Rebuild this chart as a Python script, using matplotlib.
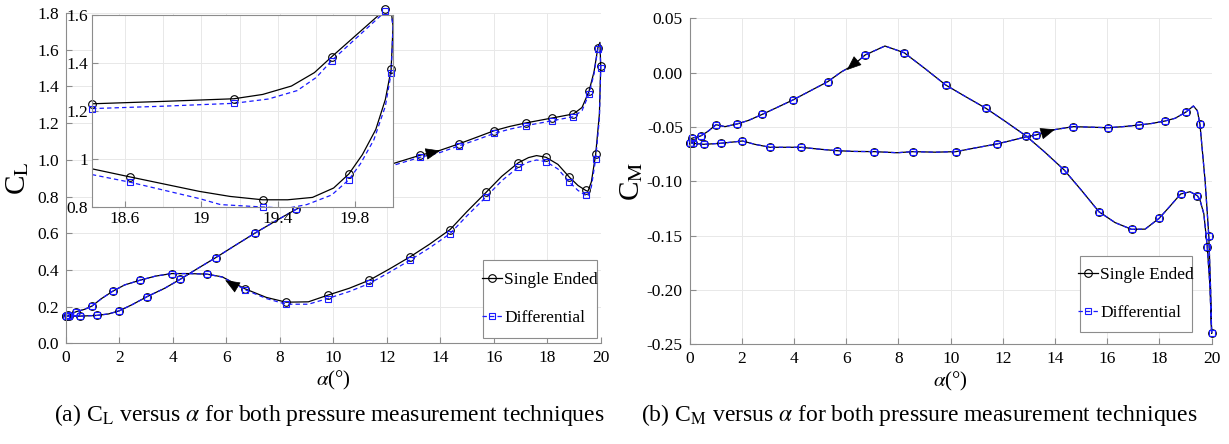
import numpy as np
import matplotlib.pyplot as plt
from matplotlib.patches import Rectangle
from matplotlib.ticker import FuncFormatter, MultipleLocator

plt.rcParams['font.family'] = 'Liberation Serif'
plt.rcParams['mathtext.fontset'] = 'stix'
plt.rcParams['font.size'] = 12

# --- lift coefficient over one pitch cycle (upstroke, then downstroke) ---
alpha_cl = [0.00, 0.13, 0.53, 1.16, 1.60, 2.00, 2.50, 3.05, 3.70, 4.27, 4.90, 5.61, 6.35, 7.08, 7.85,
            8.61, 10.10, 11.65, 12.25, 13.25, 14.00, 14.70, 15.40, 16.02, 16.60, 17.20, 18.19, 18.98,
            19.30, 19.56, 19.75, 19.89, 19.97, 20.00, 19.95, 19.81, 19.65, 19.52, 19.44, 19.15, 18.83,
            18.40, 17.95, 17.60, 17.30, 16.92, 16.30, 15.71, 15.00, 14.37, 13.60, 12.87, 12.10, 11.35,
            10.60, 9.79, 9.07, 8.24, 7.50, 6.70, 6.27, 5.85, 5.27, 4.60, 3.96, 3.35, 2.78, 2.20, 1.76,
            1.35, 0.98, 0.70, 0.385, 0.10, 0.00]
cl_single = [0.150, 0.147, 0.148, 0.152, 0.160, 0.177, 0.212, 0.255, 0.300, 0.348, 0.405, 0.467, 0.535,
             0.601, 0.667, 0.730, 0.848, 0.952, 0.980, 1.025, 1.052, 1.087, 1.125, 1.159, 1.182, 1.201,
             1.228, 1.250, 1.285, 1.373, 1.480, 1.609, 1.640, 1.509, 1.250, 1.029, 0.880, 0.828, 0.833,
             0.860, 0.905, 0.975, 1.014, 1.023, 1.012, 0.984, 0.910, 0.822, 0.718, 0.620, 0.540, 0.471,
             0.405, 0.344, 0.300, 0.262, 0.226, 0.224, 0.250, 0.297, 0.330, 0.362, 0.377, 0.380, 0.380,
             0.366, 0.344, 0.318, 0.284, 0.245, 0.203, 0.185, 0.172, 0.152, 0.150]
cl_diff = [0.150, 0.147, 0.148, 0.152, 0.160, 0.177, 0.212, 0.255, 0.300, 0.348, 0.405, 0.467, 0.535,
           0.601, 0.667, 0.730, 0.845, 0.945, 0.970, 1.014, 1.040, 1.076, 1.111, 1.144, 1.167, 1.186,
           1.213, 1.235, 1.268, 1.358, 1.468, 1.604, 1.630, 1.498, 1.225, 1.004, 0.853, 0.801, 0.806,
           0.833, 0.878, 0.950, 0.990, 0.999, 0.988, 0.960, 0.886, 0.797, 0.695, 0.598, 0.520, 0.453,
           0.387, 0.326, 0.282, 0.244, 0.213, 0.213, 0.244, 0.292, 0.328, 0.361, 0.377, 0.380, 0.380,
           0.366, 0.344, 0.318, 0.284, 0.245, 0.203, 0.185, 0.172, 0.152, 0.150]
cl_samples = [0, 1, 2, 3, 5, 7, 9, 11, 13, 15, 16, 17, 19, 21, 23, 25, 26, 27, 29, 31, 33, 35, 38, 40,
              42, 45, 47, 49, 51, 53, 55, 57, 59, 62, 64, 66, 68, 70, 72, 73, 74]

# close-up of the stall region
alpha_zoom_se = [18.43, 18.80, 19.17, 19.32, 19.47, 19.59, 19.68, 19.96, 19.99, 20.00, 19.99, 19.96,
                 19.91, 19.84, 19.77, 19.69, 19.58, 19.45, 19.32, 19.15, 18.99, 18.63, 18.43]
cl_zoom_se = [1.230, 1.240, 1.251, 1.269, 1.304, 1.360, 1.426, 1.624, 1.620, 1.554, 1.373, 1.248,
              1.123, 1.018, 0.938, 0.879, 0.840, 0.830, 0.830, 0.844, 0.865, 0.925, 0.959]
alpha_zoom_diff = [18.43, 18.80, 19.17, 19.35, 19.50, 19.60, 19.68, 19.96, 19.99, 20.00, 19.99, 19.96,
                   19.90, 19.83, 19.77, 19.68, 19.55, 19.45, 19.32, 19.10, 18.99, 18.63, 18.43]
cl_zoom_diff = [1.210, 1.220, 1.232, 1.250, 1.285, 1.340, 1.410, 1.615, 1.610, 1.550, 1.357, 1.220,
                1.080, 0.980, 0.914, 0.850, 0.810, 0.795, 0.800, 0.810, 0.835, 0.903, 0.935]
zoom_samples = [0, 2, 6, 7, 10, 14, 18, 21]

# --- pitching moment coefficient ---
alpha_cm = [0.00, 0.14, 0.55, 1.19, 1.60, 2.02, 2.50, 3.08, 4.26, 5.00, 5.63, 6.30, 7.07, 7.95, 8.57,
            9.40, 10.20, 11.00, 11.76, 12.40, 12.91, 13.27, 13.74, 14.70, 15.40, 16.04, 16.60, 17.22,
            17.70, 18.21, 18.60, 19.00, 19.30, 19.45, 19.55, 19.75, 19.89, 19.96, 20.00, 19.93, 19.83,
            19.70, 19.55, 19.45, 19.17, 18.81, 18.40, 17.99, 17.45, 16.93, 16.30, 15.68, 15.00, 14.35,
            13.60, 12.89, 12.10, 11.35, 10.60, 9.81, 9.00, 8.22, 7.48, 6.72, 6.27, 5.80, 5.29, 4.60,
            3.95, 3.35, 2.78, 2.25, 1.80, 1.35, 1.01, 0.70, 0.42, 0.08, 0.00]
cm_single = [-0.0645, -0.0650, -0.0660, -0.0650, -0.0640, -0.0629, -0.0660, -0.0687, -0.0687, -0.0705,
             -0.0718, -0.0725, -0.0727, -0.0737, -0.0727, -0.0732, -0.0727, -0.0690, -0.0657, -0.0620,
             -0.0589, -0.0574, -0.0534, -0.0497, -0.0502, -0.0507, -0.0497, -0.0482, -0.0468, -0.0445,
             -0.0420, -0.0365, -0.0307, -0.0350, -0.0473, -0.1000, -0.1500, -0.2000, -0.2400, -0.1950,
             -0.1600, -0.1300, -0.1170, -0.1132, -0.1096, -0.1117, -0.1230, -0.1340, -0.1440, -0.1442,
             -0.1380, -0.1280, -0.1080, -0.0896, -0.0730, -0.0583, -0.0450, -0.0328, -0.0225, -0.0114,
             0.0040, 0.0183, 0.0245, 0.0162, 0.0070, 0.0005, -0.0083, -0.0170, -0.0252, -0.0320,
             -0.0384, -0.0440, -0.0473, -0.0497, -0.0479, -0.0540, -0.0583, -0.0604, -0.0645]
# both techniques give the same moment to within the line width
cm_diff = list(cm_single)
cm_samples = [0, 1, 2, 3, 5, 7, 8, 10, 12, 14, 16, 18, 21, 23, 25, 27, 29, 31, 34, 36, 38, 40, 43, 45,
              47, 49, 51, 53, 55, 57, 59, 61, 63, 66, 68, 70, 72, 74, 76, 77, 78]

GRID = '#e8e8e8'
SPINE = '#8c8c8c'
BLUE = '#1a1aff'


def style_axes(ax, box=False):
    ax.grid(True, color=GRID, lw=0.7)
    ax.set_axisbelow(True)
    for side in ['left', 'bottom', 'top', 'right']:
        ax.spines[side].set_color(SPINE)
        ax.spines[side].set_linewidth(0.8)
        ax.spines[side].set_visible(box or side in ['left', 'bottom'])
    ax.tick_params(direction='in', length=4, color=SPINE, labelsize=12.5, pad=5,
                   top=False, right=False)


def draw_pair(ax, x, y1, y2, marks):
    ax.plot(x, y1, '-', color='k', lw=0.9, marker='o', ms=5.5, mfc='none', mew=0.8,
            markevery=marks, clip_on=False, label='Single Ended')
    ax.plot(x, y2, '--', color=BLUE, lw=0.9, dashes=(3.5, 2.5), marker='s', ms=3.8, mfc='none',
            mew=0.8, markevery=marks, clip_on=False, label='Differential')


def arrow(ax, tip, tail):
    ax.annotate('', xy=tip, xytext=tail,
                arrowprops=dict(arrowstyle='-|>,head_length=0.95,head_width=0.38', color='k',
                                lw=0.5, shrinkA=0, shrinkB=0, mutation_scale=10))


def legend(ax, box):
    # box = (x0, y0, w, h) in axes fraction; frame drawn separately so the
    # vertical padding can be larger than the horizontal one
    ax.add_patch(Rectangle(box[:2], box[2], box[3], transform=ax.transAxes, fc='white',
                           ec=SPINE, lw=0.8, zorder=4, clip_on=False))
    leg = ax.legend(loc='center', bbox_to_anchor=box, frameon=False, fontsize=12.5,
                    handlelength=1.15, handletextpad=0.1, labelspacing=1.25, borderpad=0,
                    borderaxespad=0)
    leg.set_zorder(5)


fig = plt.figure(figsize=(12.29, 4.44), dpi=100)

# (a) lift
ax1 = fig.add_axes([0.0535, 0.2268, 0.4353, 0.7439])
draw_pair(ax1, alpha_cl, cl_single, cl_diff, cl_samples)
arrow(ax1, (14.0, 1.05), (13.6, 1.036))
arrow(ax1, (5.96, 0.344), (6.4, 0.306))
ax1.set_xlim(0, 20)
ax1.set_ylim(0, 1.8)
ax1.set_xticks(np.arange(0, 21, 2))
ax1.set_yticks(np.arange(0, 1.81, 0.2))
ax1.yaxis.set_major_formatter(FuncFormatter(lambda v, p: f'{v:.1f}'))
style_axes(ax1)
ax1.set_xlabel(r'$\alpha$(°)', fontsize=15, labelpad=2)
ax1.set_ylabel(r'C$_\mathrm{L}$', fontsize=21, labelpad=4)
legend(ax1, (0.780, 0.015, 0.213, 0.237))

# stall close-up
axz = fig.add_axes([0.0749, 0.5338, 0.2449, 0.4324])
axz.set_facecolor('white')
axz.plot(alpha_zoom_se, cl_zoom_se, '-', color='k', lw=0.9)
axz.plot(alpha_zoom_diff, cl_zoom_diff, '--', color=BLUE, lw=0.9, dashes=(3.5, 2.5))
axz.plot([alpha_zoom_se[i] for i in zoom_samples], [cl_zoom_se[i] for i in zoom_samples], 'o',
         ms=5.5, mfc='none', mec='k', mew=0.8, clip_on=False)
axz.plot([alpha_zoom_diff[i] for i in zoom_samples], [cl_zoom_diff[i] for i in zoom_samples], 's',
         ms=3.8, mfc='none', mec=BLUE, mew=0.8, clip_on=False)
axz.set_xlim(18.43, 20.0)
axz.set_ylim(0.8, 1.6)
axz.set_xticks([18.6, 19.0, 19.4, 19.8])
axz.set_xticklabels(['18.6', '19', '19.4', '19.8'])
axz.xaxis.set_minor_locator(MultipleLocator(0.2))
axz.set_yticks([0.8, 1.0, 1.2, 1.4, 1.6])
axz.set_yticklabels(['0.8', '1', '1.2', '1.4', '1.6'])
style_axes(axz, box=True)
axz.grid(True, which='minor', axis='x', color=GRID, lw=0.7)
axz.tick_params(which='minor', length=0)
axz.tick_params(pad=3)

# (b) moment
ax2 = fig.add_axes([0.5612, 0.2245, 0.4247, 0.7343])
draw_pair(ax2, alpha_cm, cm_single, cm_diff, cm_samples)
arrow(ax2, (6.02, 0.0024), (6.36, 0.0095))
arrow(ax2, (14.0, -0.0522), (13.6, -0.0552))
ax2.set_xlim(0, 20)
ax2.set_ylim(-0.25, 0.05)
ax2.set_xticks(np.arange(0, 21, 2))
ax2.set_yticks(np.arange(-0.25, 0.051, 0.05))
ax2.yaxis.set_major_formatter(FuncFormatter(lambda v, p: f'{abs(v):.2f}' if abs(v) < 1e-9 else f'{v:.2f}'))
style_axes(ax2)
ax2.set_xlabel(r'$\alpha$(°)', fontsize=15, labelpad=2)
ax2.set_ylabel(r'C$_\mathrm{M}$', fontsize=21, labelpad=1)
legend(ax2, (0.748, 0.037, 0.214, 0.235))

fig.text(0.268, 0.065, r'(a) C$_\mathrm{L}$ versus $\alpha$ for both pressure measurement techniques',
         ha='center', va='center', fontsize=17)
fig.text(0.748, 0.065, r'(b) C$_\mathrm{M}$ versus $\alpha$ for both pressure measurement techniques',
         ha='center', va='center', fontsize=17)

fig.savefig('out.png', dpi=100)
